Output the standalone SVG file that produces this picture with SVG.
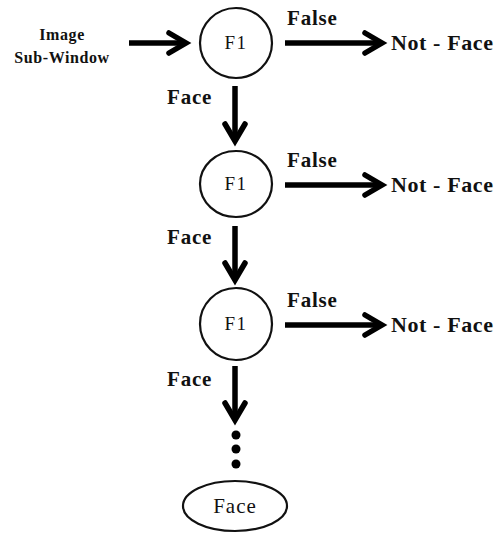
<svg xmlns="http://www.w3.org/2000/svg" width="499" height="533" viewBox="0 0 499 533">
  <style>
    .node { fill: #fff; stroke: #111; stroke-width: 2.2; }
    .cap { font-family: "Liberation Serif", "DejaVu Serif", "Times New Roman", serif; fill: #111; text-anchor: middle; }
    .lbl { font-family: "Liberation Serif", "DejaVu Serif", "Times New Roman", serif; font-weight: bold; fill: #111; }
    .wire { fill: none; stroke: #000; stroke-width: 5.5; stroke-linecap: butt; }
    .head { fill: none; stroke: #000; stroke-width: 5.5; stroke-linejoin: miter; stroke-linecap: round; }
    .dot { fill: #000; }
  </style>
  <rect width="499" height="533" fill="#fff"/>

  <!-- input label -->
  <g id="input">
    <text class="lbl" x="62" y="40" font-size="16" letter-spacing="0.6" text-anchor="middle">Image</text>
    <text class="lbl" x="62" y="63" font-size="16" letter-spacing="0.6" text-anchor="middle">Sub-Window</text>
  </g>

  <!-- classifier stages -->
  <g id="stage1">
    <ellipse class="node" cx="236" cy="43" rx="36" ry="35"/>
    <text class="cap" x="236" y="49" font-size="19" letter-spacing="1.5">F1</text>
  </g>
  <g id="stage2">
    <ellipse class="node" cx="236" cy="184" rx="36" ry="33"/>
    <text class="cap" x="236" y="190" font-size="19" letter-spacing="1.5">F1</text>
  </g>
  <g id="stage3">
    <ellipse class="node" cx="236" cy="324" rx="36" ry="36"/>
    <text class="cap" x="236" y="330" font-size="19" letter-spacing="1.5">F1</text>
  </g>

  <!-- rejection outputs -->
  <g id="reject1"><text class="lbl" x="391" y="50" font-size="22" letter-spacing="0.6">Not - Face</text></g>
  <g id="reject2"><text class="lbl" x="391" y="192" font-size="22" letter-spacing="0.6">Not - Face</text></g>
  <g id="reject3"><text class="lbl" x="391" y="332" font-size="22" letter-spacing="0.6">Not - Face</text></g>

  <!-- final accept -->
  <g id="accept">
    <ellipse class="node" cx="235" cy="506" rx="52" ry="25"/>
    <text class="cap" x="235" y="513" font-size="21" letter-spacing="1">Face</text>
  </g>

  <!-- connectors -->
  <g id="connectors">
    <!-- input to stage 1 -->
    <path class="wire" d="M129 43 H184"/>
    <path class="head" d="M169 33 L186 43 L169 53"/>

    <!-- False branches -->
    <path class="wire" d="M285 43 H380"/>
    <path class="head" d="M365 33 L382 43 L365 53"/>
    <path class="wire" d="M285 185 H380"/>
    <path class="head" d="M365 175 L382 185 L365 195"/>
    <path class="wire" d="M285 325 H380"/>
    <path class="head" d="M365 315 L382 325 L365 335"/>

    <!-- Face branches -->
    <path class="wire" d="M235 86 V139"/>
    <path class="head" d="M225 124 L235 141 L245 124"/>
    <path class="wire" d="M235 226 V278"/>
    <path class="head" d="M225 263 L235 280 L245 263"/>
    <path class="wire" d="M235 366 V418"/>
    <path class="head" d="M225 403 L235 420 L245 403"/>

    <!-- continuation dots -->
    <circle class="dot" cx="236" cy="435" r="4.5"/>
    <circle class="dot" cx="236" cy="449" r="4.5"/>
    <circle class="dot" cx="236" cy="464" r="4.5"/>

    <!-- edge labels -->
    <text class="lbl" x="287" y="25" font-size="21" letter-spacing="0.8">False</text>
    <text class="lbl" x="287" y="167" font-size="21" letter-spacing="0.8">False</text>
    <text class="lbl" x="287" y="307" font-size="21" letter-spacing="0.8">False</text>
    <text class="lbl" x="167" y="104" font-size="21" letter-spacing="0.8">Face</text>
    <text class="lbl" x="167" y="244" font-size="21" letter-spacing="0.8">Face</text>
    <text class="lbl" x="167" y="386" font-size="21" letter-spacing="0.8">Face</text>
  </g>
</svg>
